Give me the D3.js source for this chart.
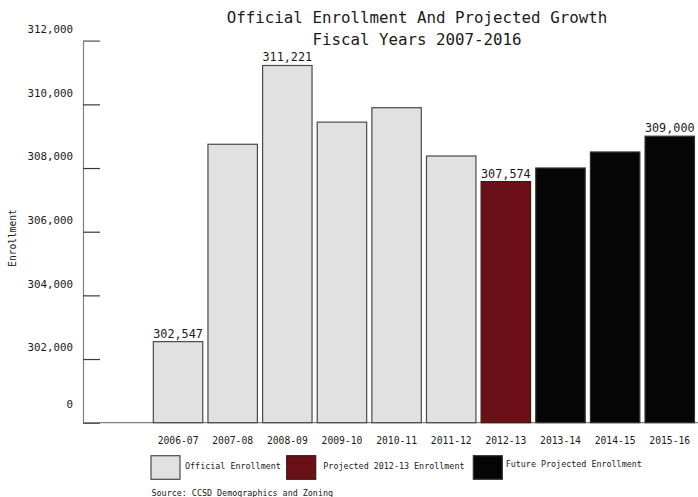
<!DOCTYPE html>
<html>
<head>
<meta charset="utf-8">
<script src="https://cdn.jsdelivr.net/npm/d3@7"></script>
<style>
  body { margin: 0; background: #fff; }
  text { font-family: "DejaVu Sans Mono", monospace; fill: #1a1a1a; }
</style>
</head>
<body>
<svg id="chart" width="698" height="497"></svg>
<script>
// data
const years = ["2006-07", "2007-08", "2008-09", "2009-10", "2010-11",
    "2011-12", "2012-13", "2013-14", "2014-15", "2015-16"];
const enrollment = [302547, 308746, 311221, 309442, 309895,
    308378, 307574, 308001, 308504, 309000];
const kinds = ["official", "official", "official", "official", "official",
    "official", "projected", "future", "future", "future"];
const labeledYears = ["2006-07", "2008-09", "2012-13", "2015-16"];
const yTicks = [300000, 302000, 304000, 306000, 308000, 310000, 312000];
const legendNames = ["Official Enrollment", "Projected 2012-13 Enrollment", "Future Projected Enrollment"];

const colors = {official: "#e0e1e0", projected: "#6b1016", future: "#050505"};
const strokes = {official: "#4a4a4a", projected: "#3a1a1a", future: "#333"};

const data = years.map((y, i) => ({year: y, value: enrollment[i], kind: kinds[i]}));

const svg = d3.select("#chart");
const axisX0 = 83;
const baseY = 422.7;

const x = d3.scaleBand()
    .domain(years)
    .range([150.6, 697.2])
    .paddingInner(0.095)
    .paddingOuter(0.05);

const y = d3.scaleLinear()
    .domain([300000, 312000])
    .range([baseY, 40.7]);

// title
const title = svg.append("text")
    .attr("x", 417)
    .attr("text-anchor", "middle")
    .attr("font-size", 15.8);
title.append("tspan").attr("x", 417).attr("y", 23).text("Official Enrollment And Projected Growth");
title.append("tspan").attr("x", 417).attr("y", 44.5).text("Fiscal Years 2007-2016");

// y axis
const yAxis = d3.axisLeft(y)
    .tickValues(yTicks)
    .tickSize(-17)
    .tickPadding(10)
    .tickFormat(d => d === 300000 ? "0" : d3.format(",")(d));

const gy = svg.append("g")
    .attr("transform", `translate(${axisX0},0)`)
    .call(yAxis);
gy.select(".domain").attr("stroke", "#808080").attr("stroke-width", 1.2);
gy.selectAll(".tick line").attr("stroke", "#3a3a3a").attr("stroke-width", 1.2);
gy.selectAll(".tick text")
    .attr("font-size", 10.8)
    .attr("font-family", "DejaVu Sans Mono")
    .attr("fill", "#1a1a1a")
    .attr("dy", d => d === 300000 ? "-1.45em" : "-0.75em");
gy.selectAll(".tick").filter(d => d === 312000).select("line").attr("stroke", "#808080");

// baseline
svg.append("line")
    .attr("x1", axisX0).attr("x2", 698)
    .attr("y1", baseY).attr("y2", baseY)
    .attr("stroke", "#808080")
    .attr("stroke-width", 1.2);

// y label
svg.append("text")
    .attr("transform", "translate(15.5,238) rotate(-90)")
    .attr("text-anchor", "middle")
    .attr("font-size", 9.6)
    .text("Enrollment");

// bars
svg.selectAll(".bar")
    .data(data)
    .enter().append("rect")
    .attr("class", "bar")
    .attr("x", d => x(d.year))
    .attr("y", d => y(d.value))
    .attr("width", x.bandwidth())
    .attr("height", d => y(300000) - y(d.value))
    .attr("fill", d => colors[d.kind])
    .attr("stroke", d => strokes[d.kind])
    .attr("stroke-width", 1.2);

// value labels
svg.selectAll(".val")
    .data(data.filter(d => labeledYears.includes(d.year)))
    .enter().append("text")
    .attr("class", "val")
    .attr("x", d => x(d.year) + x.bandwidth() / 2)
    .attr("y", d => y(d.value) - 4)
    .attr("text-anchor", "middle")
    .attr("font-size", 11.8)
    .text(d => d3.format(",")(d.value));

// x axis labels
const xAxis = d3.axisBottom(x).tickSize(0).tickPadding(14);
const gx = svg.append("g")
    .attr("transform", `translate(0,${baseY})`)
    .call(xAxis);
gx.select(".domain").remove();
gx.selectAll(".tick text")
    .attr("font-size", 9.7)
    .attr("font-family", "DejaVu Sans Mono")
    .attr("fill", "#1a1a1a");

// legend
const legendX = [151, 286.7, 473.3];
const legendKinds = ["official", "projected", "future"];
const legendTextX = [185, 323.3, 505.7];
const legendTextY = [468.5, 468.5, 467];
const lg = svg.selectAll(".legend")
    .data(legendKinds)
    .enter().append("g")
    .attr("class", "legend");
lg.append("rect")
    .attr("x", (d, i) => legendX[i])
    .attr("y", 455.7)
    .attr("width", 29)
    .attr("height", 23.6)
    .attr("fill", d => colors[d])
    .attr("stroke", d => strokes[d])
    .attr("stroke-width", 1.2);
lg.append("text")
    .attr("x", (d, i) => legendTextX[i])
    .attr("y", (d, i) => legendTextY[i])
    .attr("font-size", 8.4)
    .text((d, i) => legendNames[i]);

svg.append("text")
    .attr("x", 151.5)
    .attr("y", 496)
    .attr("font-size", 8.4)
    .text("Source: CCSD Demographics and Zoning");
</script>
</body>
</html>
